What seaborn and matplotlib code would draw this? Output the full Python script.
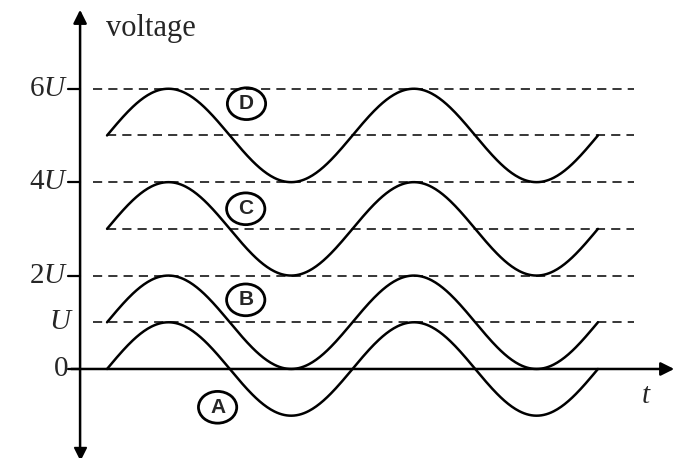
import numpy as np
import pandas as pd
import seaborn as sns
import matplotlib.pyplot as plt
from matplotlib.patches import Ellipse

sns.set_theme(style='white')
plt.rcParams['font.family'] = ['Liberation Serif', 'DejaVu Serif']
plt.rcParams['mathtext.fontset'] = 'custom'
plt.rcParams['mathtext.it'] = 'Liberation Serif:italic'
plt.rcParams['mathtext.rm'] = 'Liberation Serif'

# curves: offset and amplitude in units of U
curve_names = ['A', 'B', 'C', 'D']
curve_offsets = [0, 1, 3, 5]
curve_amplitude = 1
periods = 2

# dashed reference levels and labelled ticks
dashed_levels = [1, 2, 3, 4, 5, 6]
tick_values = [0, 1, 2, 4, 6]
tick_labels = ['0', '$U$', '2$U$', '4$U$', '6$U$']
# label positions (t, voltage) for the circled letters
label_pos = {'A': (2.83, -0.82), 'B': (3.55, 1.48), 'C': (3.55, 3.43), 'D': (3.57, 5.68)}

t = np.linspace(0, periods * 2 * np.pi, 400)
rows = []
for name, off in zip(curve_names, curve_offsets):
    rows.append(pd.DataFrame({'t': t, 'v': off + curve_amplitude * np.sin(t), 'curve': name}))
df = pd.concat(rows)

fig = plt.figure(figsize=(6.77, 4.58), dpi=100)
ax = fig.add_axes([0, 0, 1, 1])
ax.set_xlim(-2.74, 14.59)
ax.set_ylim(-1.906, 7.90)
ax.axis('off')

sns.lineplot(data=df, x='t', y='v', units='curve', estimator=None, color='black',
             linewidth=1.8, ax=ax, legend=False)

for lv in dashed_levels:
    x0 = -0.35 if lv in (1, 2, 4, 6) else 0
    ax.plot([x0, 13.5], [lv, lv], color='black', linestyle=(0, (6, 4)), linewidth=1.1)

# axes
ax.annotate('', xy=(14.59, 0), xytext=(-0.99, 0),
            arrowprops=dict(arrowstyle='-|>', color='black', lw=1.8, mutation_scale=20))
ax.annotate('', xy=(-0.69, 7.75), xytext=(-0.69, -1.75),
            arrowprops=dict(arrowstyle='-|>', color='black', lw=1.8, mutation_scale=20))
ax.plot([-0.69], [-1.8], marker='v', color='black', markersize=8)

for val, lab in zip(tick_values, tick_labels):
    if val in (0, 2, 4, 6):
        ax.plot([-0.99, -0.69], [val, val], color='black', linewidth=1.6)
    ax.text(-1.0 if val != 1 else -0.85, val, lab, ha='right', va='center', fontsize=21)

ax.text(-0.02, 7.3, 'voltage', ha='left', va='center', fontsize=22)
ax.text(13.8, -0.57, '$t$', ha='center', va='center', fontsize=21)

for name, (x, y) in label_pos.items():
    ax.add_patch(Ellipse((x, y), 0.98, 0.68, fill=False, edgecolor='black', linewidth=2.0))
    ax.text(x, y, name, ha='center', va='center', fontsize=15, fontweight='heavy',
            family=['Liberation Sans', 'DejaVu Sans'])

fig.savefig('out.png', dpi=100)
